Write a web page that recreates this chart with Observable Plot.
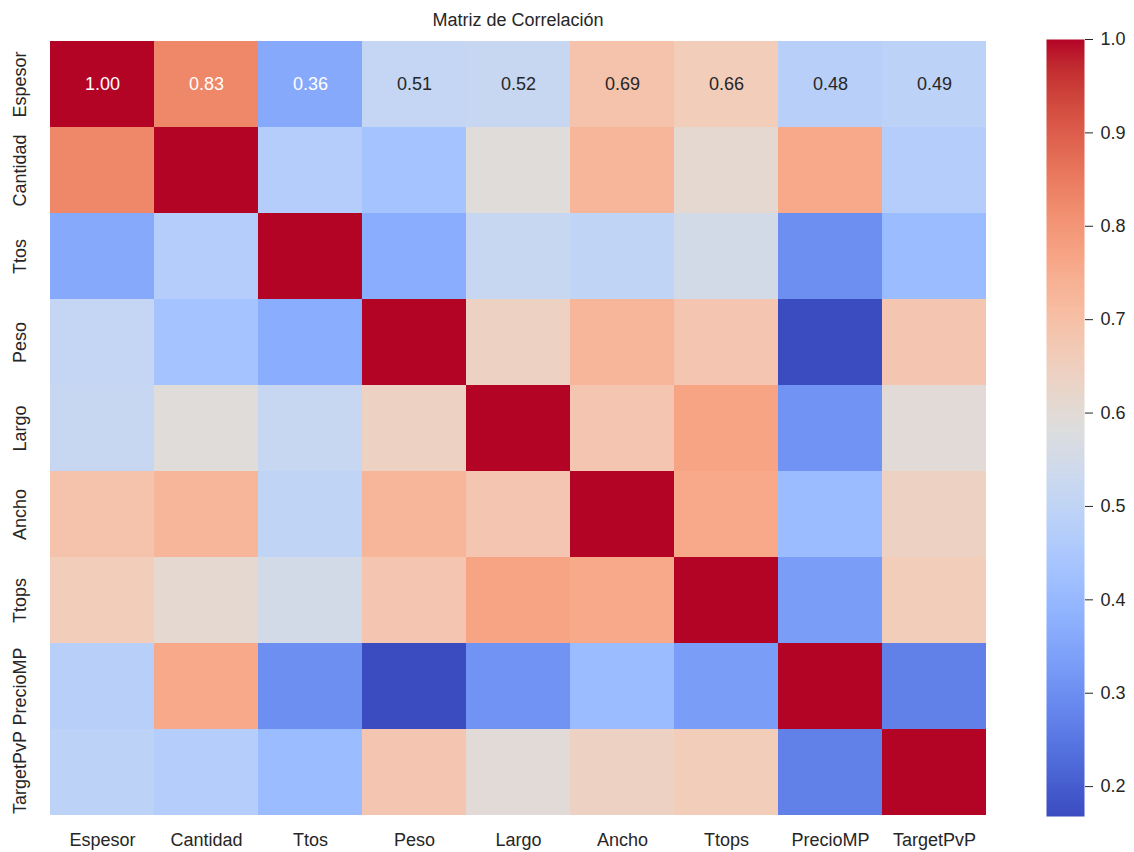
<!DOCTYPE html>
<html>
<head>
<meta charset="utf-8">
<script src="https://cdn.jsdelivr.net/npm/d3@7"></script>
<script src="https://cdn.jsdelivr.net/npm/@observablehq/plot@0.6"></script>
<style>
  html, body { margin: 0; padding: 0; background: #fff; }
  #wrap { position: relative; width: 1134px; height: 852px; }
  #wrap > svg { position: absolute; top: 0; }
</style>
</head>
<body>
<div id="wrap"></div>
<script>
// ---- data ----
const labels = ["Espesor","Cantidad","Ttos","Peso","Largo","Ancho","Ttops","PrecioMP","TargetPvP"];
const corrEspesor   = [1.00, 0.83, 0.36, 0.51, 0.52, 0.69, 0.66, 0.48, 0.49];
const corrCantidad  = [0.83, 1.00, 0.47, 0.43, 0.59, 0.73, 0.61, 0.76, 0.47];
const corrTtos      = [0.36, 0.47, 1.00, 0.37, 0.52, 0.50, 0.55, 0.30, 0.41];
const corrPeso      = [0.51, 0.43, 0.37, 1.00, 0.64, 0.73, 0.68, 0.168, 0.68];
const corrLargo     = [0.52, 0.59, 0.52, 0.64, 1.00, 0.68, 0.77, 0.31, 0.60];
const corrAncho     = [0.69, 0.73, 0.50, 0.73, 0.68, 1.00, 0.76, 0.41, 0.64];
const corrTtops     = [0.66, 0.61, 0.55, 0.68, 0.77, 0.76, 1.00, 0.33, 0.66];
const corrPrecioMP  = [0.48, 0.76, 0.30, 0.168, 0.31, 0.41, 0.33, 1.00, 0.27];
const corrTargetPvP = [0.49, 0.47, 0.41, 0.68, 0.60, 0.64, 0.66, 0.27, 1.00];
const annotatedRows = ["Espesor"];
const colorbarTicks = [0.2, 0.3, 0.4, 0.5, 0.6, 0.7, 0.8, 0.9, 1.0];
const title = "Matriz de Correlación";

const rows = [corrEspesor, corrCantidad, corrTtos, corrPeso, corrLargo, corrAncho, corrTtops, corrPrecioMP, corrTargetPvP];
const cells = [];
rows.forEach((r, i) => r.forEach((v, j) => cells.push({row: labels[i], col: labels[j], value: v})));

// matplotlib "coolwarm" control colours
const coolwarm = ["#3b4cc0","#445acc","#4d68d7","#5775e1","#6282ea","#6c8ef1","#779af7","#82a5fb","#8db0fe","#98b9ff","#a3c2ff","#aec9fd","#b8d0f9","#c2d5f4","#ccd9ee","#d5dbe6","#dddddd","#e5d8d1","#ecd3c5","#f1ccb9","#f5c4ad","#f7bba0","#f7b194","#f7a687","#f49a7b","#f18d6f","#ec7f63","#e57058","#de604d","#d55042","#cb3e38","#c0282f","#b40426"];
const interp = d3.piecewise(d3.interpolateRgb, coolwarm);
const vmin = d3.min(cells, d => d.value);
const vmax = d3.max(cells, d => d.value);
const colorScale = {type: "linear", domain: [vmin, vmax], interpolate: interp, clamp: true};

function textColor(v) {
  const c = d3.rgb(interp((v - vmin) / (vmax - vmin)));
  const lin = x => { x /= 255; return x <= 0.03928 ? x / 12.92 : Math.pow((x + 0.055) / 1.055, 2.4); };
  const lum = 0.2126 * lin(c.r) + 0.7152 * lin(c.g) + 0.0722 * lin(c.b);
  return lum > 0.408 ? "#262626" : "#ffffff";
}

const font = "'Liberation Sans', Arial, Helvetica, sans-serif";
const ink = "#262626";

const main = Plot.plot({
  width: 1134,
  height: 852,
  marginLeft: 48,
  marginRight: 147,
  marginTop: 39,
  marginBottom: 36,
  style: {fontFamily: font, fontSize: "18px", color: ink, background: "transparent"},
  x: {domain: labels, padding: 0, axis: null},
  y: {domain: labels, padding: 0, axis: null},
  color: colorScale,
  marks: [
    Plot.cell(cells, {x: "col", y: "row", fill: "value", inset: 0, shapeRendering: "crispEdges"}),
    Plot.text(cells.filter(d => annotatedRows.includes(d.row)), {
      x: "col", y: "row", text: d => d3.format(".2f")(d.value),
      fill: d => textColor(d.value), fontSize: 18
    }),
    Plot.text(labels, {x: d => d, text: d => d, frameAnchor: "bottom", dy: 24, lineAnchor: "middle", fill: ink, fontSize: 18}),
    Plot.text(labels, {y: d => d, text: d => d, frameAnchor: "left", dx: -28, rotate: -90, lineAnchor: "middle", textAnchor: "middle", fill: ink, fontSize: 18}),
    Plot.text([title], {frameAnchor: "top", dy: -19, lineAnchor: "middle", fill: ink, fontSize: 18})
  ]
});
main.style.left = "0px";
document.getElementById("wrap").appendChild(main);

const bar = Plot.plot({
  width: 88,
  height: 852,
  marginLeft: 0,
  marginRight: 50,
  marginTop: 39,
  marginBottom: 36,
  style: {fontFamily: font, fontSize: "18px", color: ink, background: "transparent"},
  x: {domain: [0, 1], axis: null},
  y: {domain: [vmin, vmax], axis: "right", ticks: colorbarTicks, tickFormat: d3.format(".1f"), tickSize: 8, tickPadding: 8, label: null},
  color: colorScale,
  marks: [
    Plot.raster({x1: 0, x2: 1, y1: vmin, y2: vmax, width: 1, height: 400, fill: (x, y) => y, imageRendering: "auto"})
  ]
});
bar.style.left = "1046px";
document.getElementById("wrap").appendChild(bar);
</script>
</body>
</html>
